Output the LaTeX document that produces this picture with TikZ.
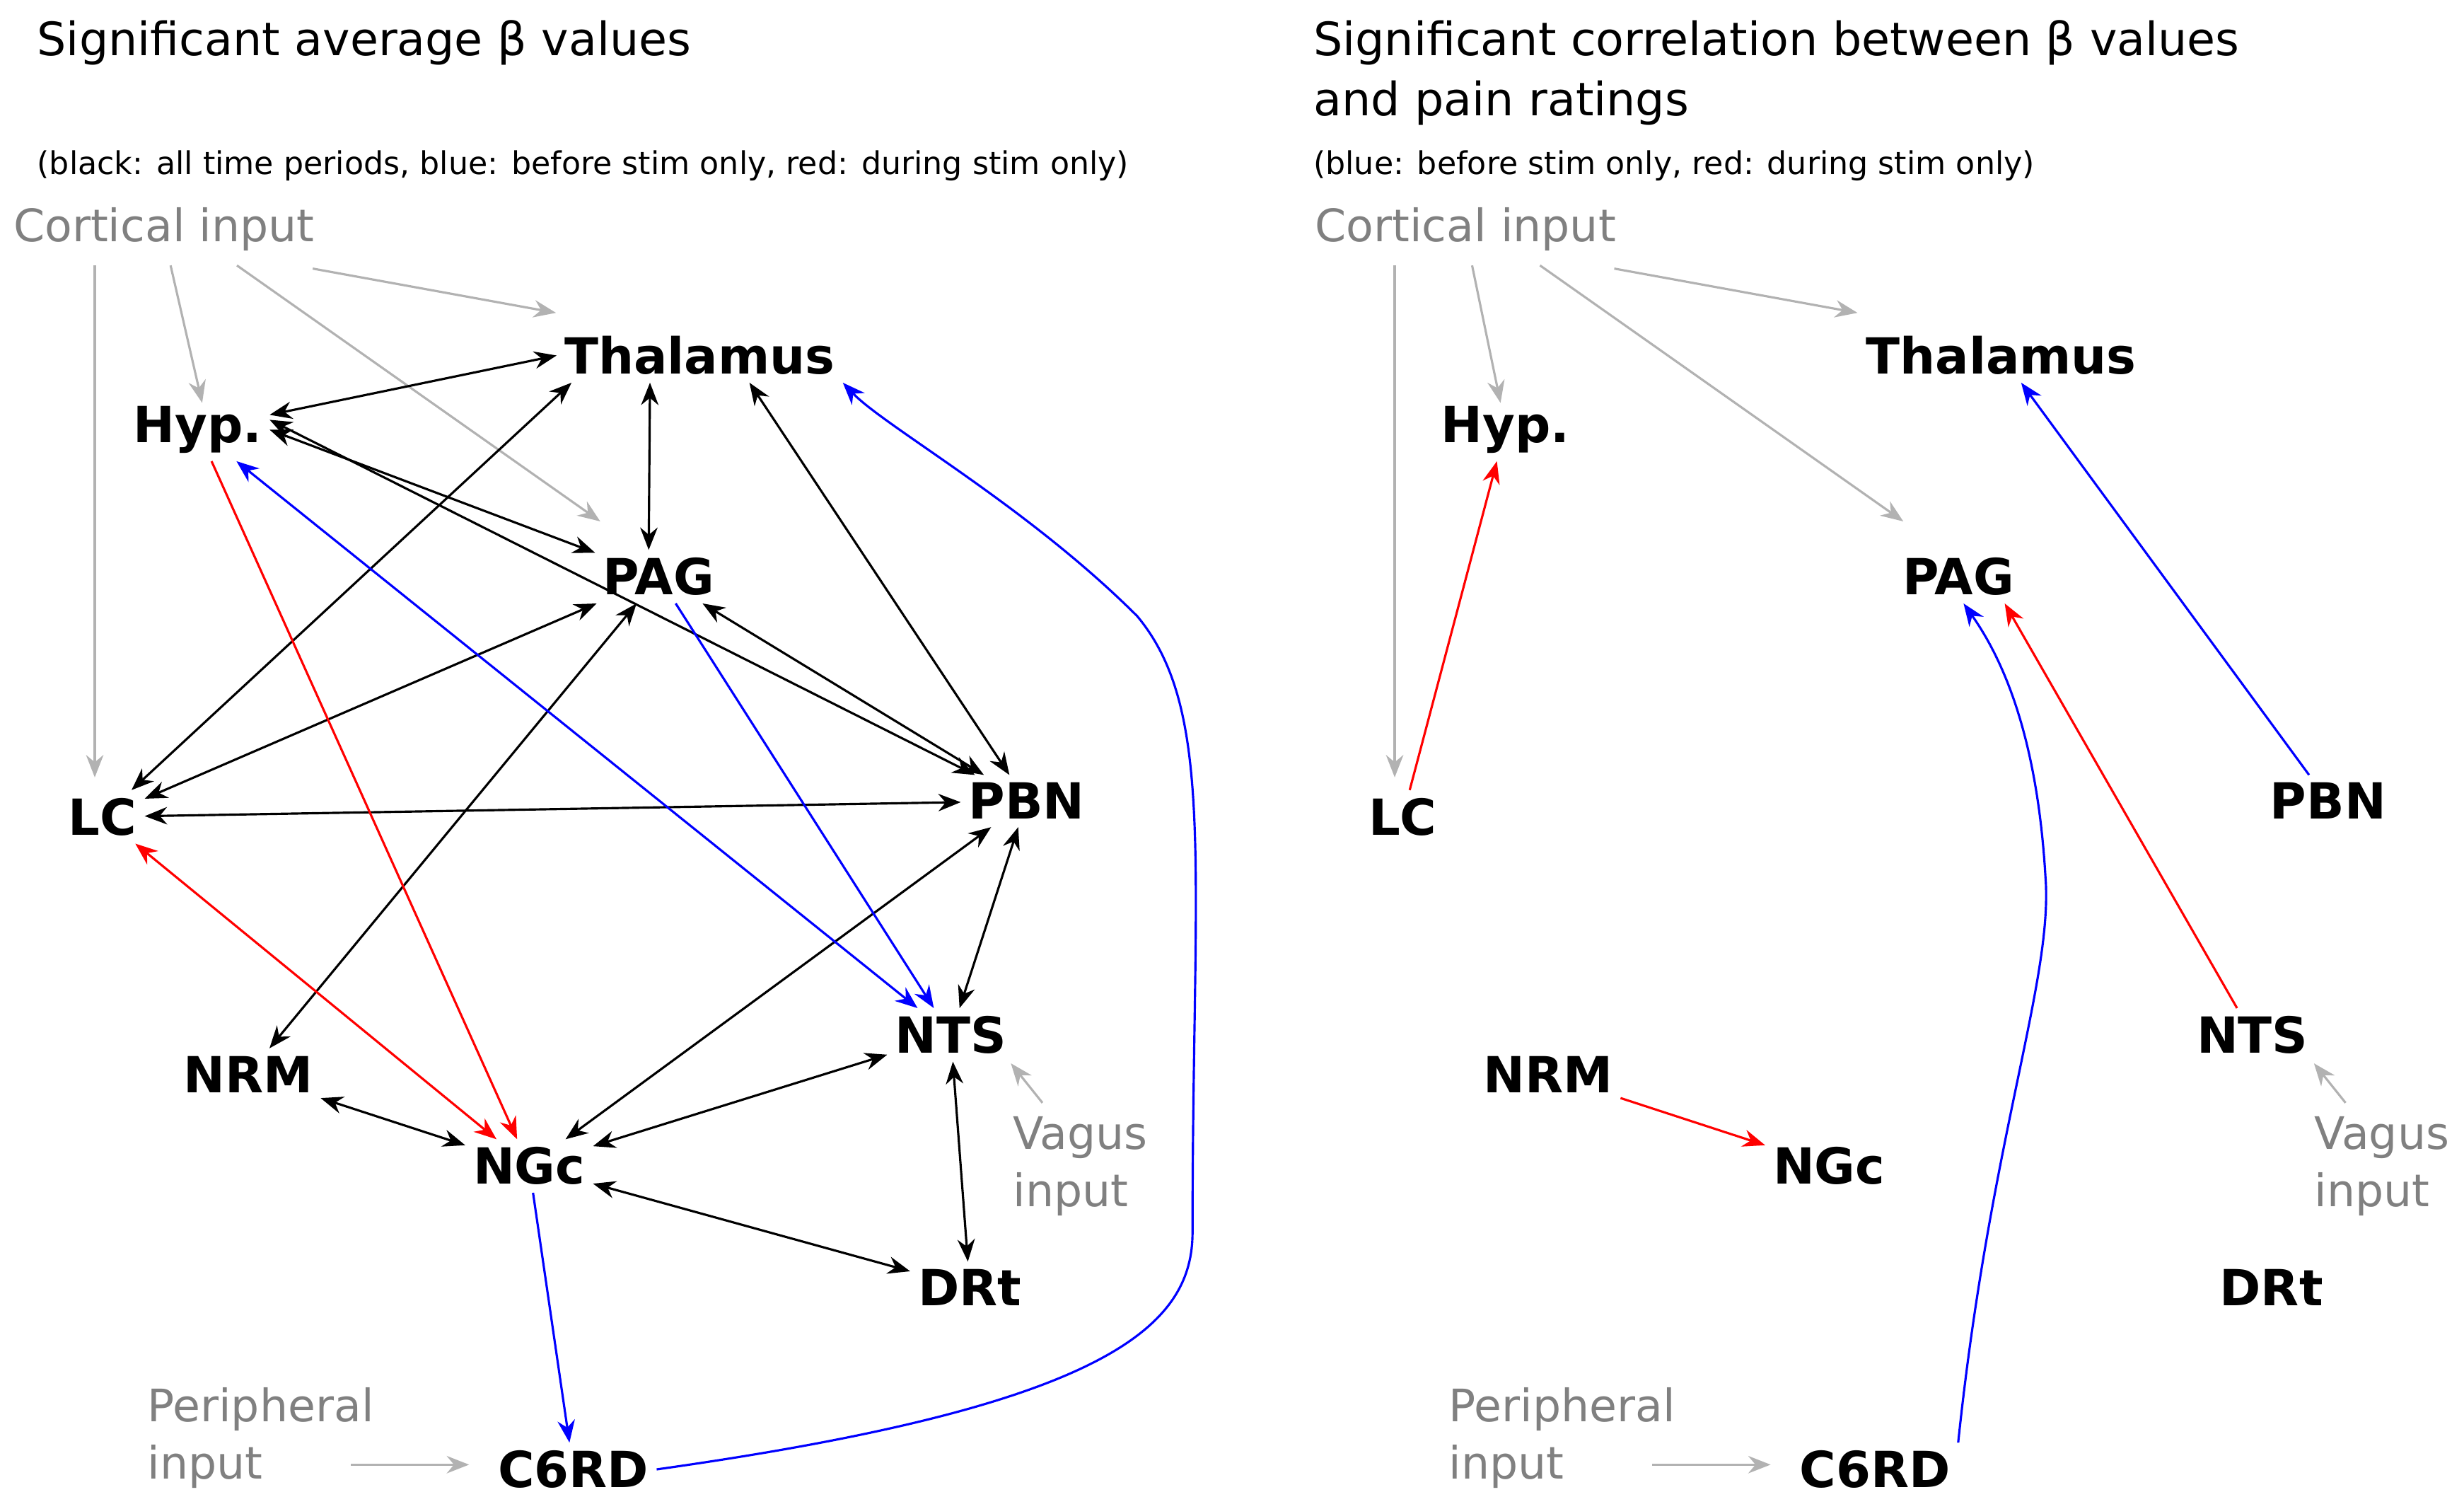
\documentclass[tikz,border=0pt]{standalone}
\usepackage{fontspec}
\setmainfont{DejaVu Sans}
\usetikzlibrary{arrows.meta}
\begin{document}
\begin{tikzpicture}[x=0.02233cm,y=-0.02233cm,
  n/.style={font=\fontsize{20}{24}\selectfont\bfseries, inner sep=3pt},
  g/.style={font=\fontsize{18}{23}\selectfont, text=black!50, align=left},
  ttl/.style={font=\fontsize{18.5}{22}\selectfont, anchor=west},
  sub/.style={font=\fontsize{12.6}{15}\selectfont, anchor=west},
  e/.style={line width=0.9pt, {Stealth[length=9pt,width=7pt]}-{Stealth[length=9pt,width=7pt]}},
  a/.style={line width=0.9pt, -{Stealth[length=9pt,width=7pt]}},
  ga/.style={line width=0.9pt, draw=black!30, -{Stealth[length=9pt,width=7pt]}},
  R/.style={draw=red}, B/.style={draw=blue}]
\useasboundingbox (0,0) rectangle (1560,955);
% titles
\node[ttl] (t1) at (18,27) {Significant average β values};
\node[sub] (s1) at (18,105) {(black: all time periods, blue: before stim only, red: during stim only)};
\node[ttl] (t2) at (826,27) {Significant correlation between β values};
\node[ttl] (t3) at (826,65) {and pain ratings};
\node[sub] (s2) at (826,105) {(blue: before stim only, red: during stim only)};
% ---------- left
\node[n] (th) at (443,225) {Thalamus};
\node[n] (hy) at (125,272) {Hyp.};
\node[n] (pa) at (417,365) {PAG};
\node[n] (lc) at (65,517) {LC};
\node[n] (pb) at (650,507) {PBN};
\node[n] (nt) at (602,655) {NTS};
\node[n] (nr) at (157,680) {NRM};
\node[n] (ng) at (335,738) {NGc};
\node[n] (dr) at (614,815) {DRt};
\node[n] (c6) at (363,930) {C6RD};
\node[g,anchor=west] (ci) at (3,145) {Cortical input};
\node[g] (vi) at (684,738) {Vagus\\input};
\node[g] (pi) at (165,910) {Peripheral\\input};
\coordinate (c1) at (60,168); \coordinate (c1e) at (60,492);
\coordinate (c2) at (108,168); \coordinate (c2e) at (128,255);
\coordinate (c3) at (150,168); \coordinate (c3e) at (380,330);
\coordinate (c4) at (198,170); \coordinate (c4e) at (352,198);
\coordinate (v1) at (660,698); \coordinate (v1e) at (640,673);
\coordinate (p1) at (222,927); \coordinate (p1e) at (297,927);
\draw[ga] (c1)--(c1e); \draw[ga] (c2)--(c2e); \draw[ga] (c3)--(c3e); \draw[ga] (c4)--(c4e);
\draw[ga] (v1)--(v1e); \draw[ga] (p1)--(p1e);
\draw[e] (hy)--(th.west); \draw[e] ([xshift=-20pt]th.south)--([xshift=-4pt]pa.north); \draw[e] ([xshift=20pt]th.south)--(pb); \draw[e] ([xshift=6pt]th.south west)--(lc);
\draw[e] (hy.east)--(pa); \draw[e] ([yshift=4pt]hy.east)--(pb);
\draw[e] (pa)--(lc); \draw[e] (pa)--(pb); \draw[e] (pa)--(nr);
\draw[e] (lc)--(pb); \draw[e] (pb)--(ng); \draw[e] (pb)--(nt);
\draw[e] (nt)--(ng); \draw[e] (nt)--(dr); \draw[e] (ng)--(dr); \draw[e] (nr)--(ng);
\draw[a,R] (hy)--(ng); \draw[e,R] (lc)--(ng);
\draw[e,B] (hy)--(nt); \draw[a,B] (pa)--(nt); \draw[a,B] (ng)--(c6);
\draw[a,B] (c6.east) .. controls (700,890) and (755,840) .. (755,780)
   .. controls (755,550) and (770,450) .. (720,390)
   .. controls (650,320) and (560,270) .. (th.south east);
% ---------- right
\node[n] (th2) at (1267,225) {Thalamus};
\node[n] (hy2) at (953,272) {Hyp.};
\node[n] (pa2) at (1240,365) {PAG};
\node[n] (lc2) at (888,517) {LC};
\node[n] (pb2) at (1474,507) {PBN};
\node[n] (nt2) at (1426,655) {NTS};
\node[n] (nr2) at (980,680) {NRM};
\node[n] (ng2) at (1158,738) {NGc};
\node[n] (dr2) at (1438,815) {DRt};
\node[n] (c62) at (1187,930) {C6RD};
\node[g,anchor=west] (ci2) at (827,145) {Cortical input};
\node[g] (vi2) at (1508,738) {Vagus\\input};
\node[g] (pi2) at (989,910) {Peripheral\\input};
\coordinate (d1) at (883,168); \coordinate (d1e) at (883,492);
\coordinate (d2) at (932,168); \coordinate (d2e) at (950,255);
\coordinate (d3) at (975,168); \coordinate (d3e) at (1205,330);
\coordinate (d4) at (1022,170); \coordinate (d4e) at (1176,198);
\coordinate (w1) at (1485,698); \coordinate (w1e) at (1465,673);
\coordinate (q1) at (1046,927); \coordinate (q1e) at (1121,927);
\draw[ga] (d1)--(d1e); \draw[ga] (d2)--(d2e); \draw[ga] (d3)--(d3e); \draw[ga] (d4)--(d4e);
\draw[ga] (w1)--(w1e); \draw[ga] (q1)--(q1e);
\draw[a,R] (lc2)--(hy2); \draw[a,R] (nr2)--(ng2); \draw[a,R] (nt2)--([xshift=-7pt]pa2.south east);
\draw[a,B] (pb2)--(th2);
\draw[a,B] (c62.north east) .. controls (1260,720) and (1300,620) .. (1295,555)
   .. controls (1290,470) and (1270,420) .. ([xshift=2pt]pa2.south);
\end{tikzpicture}
\end{document}
